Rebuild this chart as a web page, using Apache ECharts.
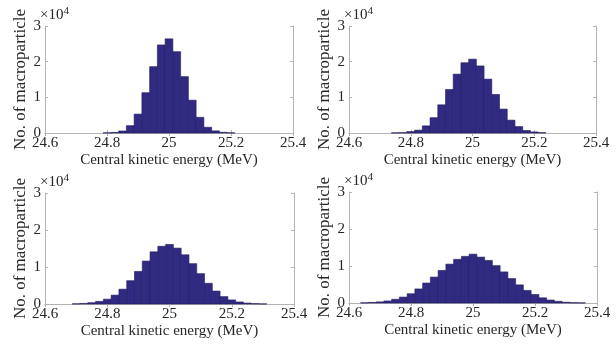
<!DOCTYPE html>
<html>
<head>
<meta charset="utf-8">
<script src="https://cdn.jsdelivr.net/npm/echarts@6/dist/echarts.min.js"></script>
<style>
  html, body { margin: 0; padding: 0; background: #fff; }
  #chart { width: 616px; height: 348px; }
</style>
</head>
<body>
<div id="chart"></div>
<script>
// histogram bins: centre energy (MeV) and counts, one pair per panel
const binWidth = 0.025;

const energy1 = [24.8, 24.825, 24.85, 24.875, 24.9, 24.925, 24.95, 24.975, 25.0,
  25.025, 25.05, 25.075, 25.1, 25.125, 25.15, 25.175, 25.2];
const count1 = [50, 150, 560, 2060, 5300, 11300, 18600, 24700, 26400,
  22800, 15800, 9200, 4400, 1600, 600, 200, 50];

const energy2 = [24.75, 24.775, 24.8, 24.825, 24.85, 24.875, 24.9, 24.925, 24.95, 24.975,
  25.0, 25.025, 25.05, 25.075, 25.1, 25.125, 25.15, 25.175, 25.2, 25.225];
const count2 = [50, 100, 400, 800, 2000, 4300, 7900, 12200, 16500, 19700,
  20700, 18800, 15100, 10800, 6700, 3600, 1800, 700, 300, 100];

const energy3 = [24.7, 24.725, 24.75, 24.775, 24.8, 24.825, 24.85, 24.875, 24.9, 24.925,
  24.95, 24.975, 25.0, 25.025, 25.05, 25.075, 25.1, 25.125, 25.15, 25.175,
  25.2, 25.225, 25.25, 25.275, 25.3];
const count3 = [50, 150, 350, 700, 1300, 2400, 4000, 6300, 8800, 11600,
  14100, 15600, 16100, 15100, 13300, 10900, 8200, 5600, 3500, 2000,
  1100, 550, 250, 100, 30];

const energy4 = [24.65, 24.675, 24.7, 24.725, 24.75, 24.775, 24.8, 24.825, 24.85, 24.875,
  24.9, 24.925, 24.95, 24.975, 25.0, 25.025, 25.05, 25.075, 25.1, 25.125,
  25.15, 25.175, 25.2, 25.225, 25.25, 25.275, 25.3, 25.325, 25.35];
const count4 = [60, 150, 300, 550, 1000, 1600, 2500, 3800, 5400, 7000,
  8800, 10500, 11800, 12600, 13200, 12400, 11500, 10100, 8400, 6600,
  4900, 3400, 2300, 1400, 800, 450, 200, 100, 40];

const xLabel = 'Central kinetic energy (MeV)';
const yLabel = 'No. of macroparticle';

const panels = [
  { energy: energy1, count: count1, grid: { left: 45, top: 26, width: 248, height: 107 } },
  { energy: energy2, count: count2, grid: { left: 349, top: 26, width: 247, height: 107 } },
  { energy: energy3, count: count3, grid: { left: 45, top: 193, width: 249, height: 111 } },
  { energy: energy4, count: count4, grid: { left: 349, top: 192, width: 248, height: 111 } },
];

const font = "'Liberation Serif', 'Times New Roman', serif";
const textColor = '#262626';
const boxColor = '#b4b4b4';
const barFill = '#312a82';
const barEdge = '#221d5c';

const chart = echarts.init(document.getElementById('chart'), null, { renderer: 'canvas' });

const grid = [], xAxis = [], yAxis = [], series = [], graphic = [];

panels.forEach((p, i) => {
  grid.push(Object.assign({ containLabel: false }, p.grid));

  const axisLine = { show: true, lineStyle: { color: boxColor, width: 1 } };
  const tick = { show: true, inside: true, length: 3, lineStyle: { color: boxColor } };

  xAxis.push({
    type: 'value', gridIndex: i, position: 'bottom',
    min: 24.6, max: 25.4, interval: 0.2,
    axisLine, axisTick: tick, splitLine: { show: false },
    axisLabel: {
      color: textColor, fontFamily: font, fontSize: 15, margin: 3,
      formatter: (v) => String(+v.toFixed(1)),
    },
    name: xLabel, nameLocation: 'middle', nameGap: 20,
    nameTextStyle: { color: textColor, fontFamily: font, fontSize: 15, verticalAlign: 'top' },
  });
  xAxis.push({
    type: 'value', gridIndex: i, position: 'top',
    min: 24.6, max: 25.4, interval: 0.2,
    axisLine, axisTick: tick, axisLabel: { show: false }, splitLine: { show: false },
  });

  yAxis.push({
    type: 'value', gridIndex: i, position: 'left',
    min: 0, max: 30000, interval: 10000,
    axisLine, axisTick: tick, splitLine: { show: false },
    axisLabel: {
      color: textColor, fontFamily: font, fontSize: 15, margin: 4,
      formatter: (v) => String(v / 10000),
    },
    name: yLabel, nameLocation: 'middle', nameGap: 16,
    nameTextStyle: { color: textColor, fontFamily: font, fontSize: 17, verticalAlign: 'bottom' },
  });
  yAxis.push({
    type: 'value', gridIndex: i, position: 'right',
    min: 0, max: 30000, interval: 10000,
    axisLine, axisTick: tick, axisLabel: { show: false }, splitLine: { show: false },
  });

  series.push({
    type: 'custom',
    xAxisIndex: i * 2,
    yAxisIndex: i * 2,
    data: p.energy.map((e, k) => [e, p.count[k]]),
    renderItem: (params, api) => {
      const x = api.value(0);
      const y = api.value(1);
      const a = api.coord([x - binWidth / 2, y]);
      const b = api.coord([x + binWidth / 2, 0]);
      return {
        type: 'rect',
        shape: { x: a[0], y: a[1], width: b[0] - a[0], height: b[1] - a[1] },
        style: { fill: barFill, stroke: barEdge, lineWidth: 0.6 },
      };
    },
    silent: true,
  });

  graphic.push({
    type: 'text',
    left: p.grid.left - 5,
    top: p.grid.top - 20,
    style: {
      text: '{a|×10}{b|4}',
      rich: {
        a: { fontFamily: font, fontSize: 15, fill: textColor, verticalAlign: 'bottom' },
        b: { fontFamily: font, fontSize: 11, fill: textColor, verticalAlign: 'top', padding: [0, 0, 6, 0] },
      },
    },
  });
});

chart.setOption({
  animation: false,
  backgroundColor: '#ffffff',
  grid, xAxis, yAxis, series, graphic,
});
</script>
</body>
</html>
